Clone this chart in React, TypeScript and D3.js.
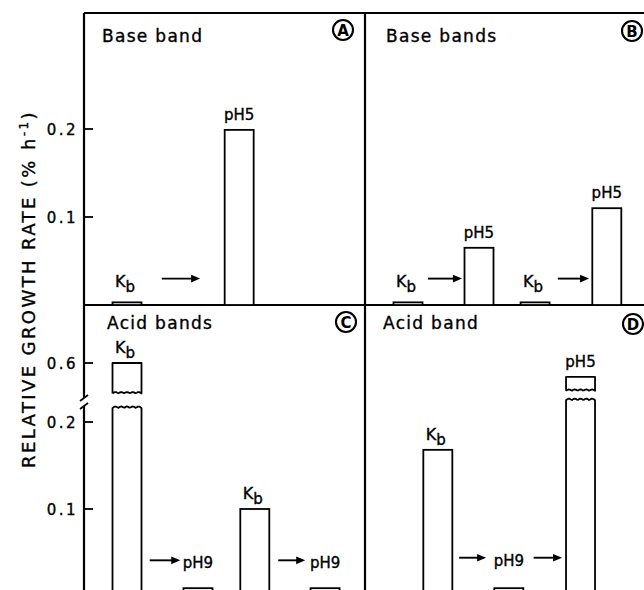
import React from "react";
import * as d3 from "d3";

// Panels: letter, heading
const panelIds = ["A", "B", "C", "D"];
const panelTitles = ["Base band", "Base bands", "Acid bands", "Acid band"];

// Bars: panel, label, slot (order along the panel), growth rate (% h-1)
const barPanels = ["A", "A", "B", "B", "B", "B", "C", "C", "C", "C", "D", "D", "D"];
const barLabels = ["Kb", "pH5", "Kb", "pH5", "Kb", "pH5", "Kb", "pH9", "Kb", "pH9", "Kb", "pH9", "pH5"];
const barSlots = [0, 1.58, 0, 1, 1.79, 2.8, 0, 1, 1.8, 2.79, 0.42, 1.42, 2.43];
const barValues = [0.003, 0.199, 0.003, 0.065, 0.003, 0.11, 0.6, 0.009, 0.1, 0.009, 0.168, 0.009, 0.584];

// Axis ticks
const topTicks = [0.1, 0.2];
const bottomTicks = [0.1, 0.2];
const bottomUpperTicks = [0.6];

// Where broken bars are cut (upper segment value, lower segment value)
const breakPanels = ["C", "D"];
const breakUpper = [0.565, 0.568];
const breakLower = [0.216, 0.225];

// Transition arrows: panel, start slot, end slot, height (value units)
const arrowPanels = ["A", "B", "B", "C", "C", "D", "D"];
const arrowFrom = [0.49, 0.28, 2.11, 0.32, 2.13, 0.72, 1.77];
const arrowTo = [1.03, 0.76, 2.55, 0.75, 2.51, 1.1, 2.17];
const arrowLevel = [0.03, 0.03, 0.03, 0.041, 0.041, 0.044, 0.044];

const FONT = "'DejaVu Sans', Arial, sans-serif";
const W = 644;
const H = 590;
const INK = { fill: "#000", stroke: "#000", strokeWidth: 0.35 };

const frame = { left: 84, mid: 365, right: 652, top: 13, midY: 305, bottom: 596 };
const BAR_W = 29;
const SLOT_W = 71;
const SLOT_OFFSET = 43;

const yTop = d3.scaleLinear().domain([0, 0.2]).range([frame.midY, 129]);
const yBot = d3.scaleLinear().domain([0, 0.2]).range([frame.bottom, 422]);
const yBotUpper = d3.scaleLinear().domain([0.5, 0.6]).range([450, 363]);

const isTop = (p: string) => p === "A" || p === "B";
const panelLeft = (p: string) => (p === "A" || p === "C" ? frame.left : frame.mid);

function xScale(p: string) {
  const l = panelLeft(p) + SLOT_OFFSET;
  return d3.scaleLinear().domain([0, 1]).range([l, l + SLOT_W]);
}

function yFor(p: string, v: number) {
  if (isTop(p)) return yTop(v);
  return v > 0.3 ? yBotUpper(v) : yBot(v);
}

// Small wavy edge used where a bar is cut
function wavyPoints(x0: number, x1: number, y: number, amp: number) {
  const n = 24;
  const cycles = 5;
  const pts: [number, number][] = [];
  for (let i = 0; i <= n; i++) {
    const t = i / n;
    const s = Math.abs(Math.sin(t * cycles * Math.PI));
    pts.push([x0 + (x1 - x0) * t, y - amp * s]);
  }
  return pts;
}

function BrokenBar({ x, top, bottom, cutTop, cutBottom }: { x: number; top: number; bottom: number; cutTop: number; cutBottom: number }) {
  const l = x - BAR_W / 2;
  const r = x + BAR_W / 2;
  const line = d3.line().curve(d3.curveLinear);
  const upperWave = wavyPoints(r, l, cutTop, 1.4);
  const lowerWave = wavyPoints(l, r, cutBottom, 1.6);
  const upperPath = `M${l},${cutTop}L${l},${top}L${r},${top}L${r},${cutTop}` + (line(upperWave) || "").replace(/^M/, "L");
  const lowerPath = `M${l},${bottom}L${l},${cutBottom}` + (line(lowerWave) || "").replace(/^M/, "L") + `L${r},${bottom}`;
  return (
    <g fill="#fff" stroke="#000" strokeWidth={1.8} strokeLinejoin="round">
      <path d={upperPath} />
      <path d={lowerPath} />
    </g>
  );
}

function Arrow({ x0, x1, y }: { x0: number; x1: number; y: number }) {
  return (
    <g>
      <line x1={x0} x2={x1 - 6} y1={y} y2={y} stroke="#000" strokeWidth={1.9} />
      <path d={`M${x1},${y}L${x1 - 9},${y - 3.8}L${x1 - 9},${y + 3.8}Z`} fill="#000" />
    </g>
  );
}

function BarLabel({ x, y, label }: { x: number; y: number; label: string }) {
  if (label === "Kb") {
    return (
      <text x={x} y={y} textAnchor="middle" fontFamily={FONT} fontSize={16} {...INK}>
        K<tspan dy={5} fontSize={15}>b</tspan>
      </text>
    );
  }
  return (
    <text x={x} y={y} textAnchor="middle" fontFamily={FONT} fontSize={15} {...INK}>
      {label}
    </text>
  );
}

function CircledLetter({ x, y, letter }: { x: number; y: number; letter: string }) {
  return (
    <g>
      <circle cx={x} cy={y} r={10} fill="none" stroke="#000" strokeWidth={2.1} />
      <text x={x} y={y + 5.5} textAnchor="middle" fontFamily={FONT} fontWeight="bold" fontSize={15} fill="#000">
        {letter}
      </text>
    </g>
  );
}

export default function App() {
  const titlePos: Record<string, [number, number]> = {
    A: [102, 42],
    B: [386, 42],
    C: [107, 329],
    D: [383, 329],
  };
  const letterPos: Record<string, [number, number]> = {
    A: [343, 30],
    B: [632, 31],
    C: [346, 322],
    D: [633, 324],
  };

  const bars = barValues.map((v, i) => {
    const p = barPanels[i];
    return { p, v, label: barLabels[i], x: xScale(p)(barSlots[i]) };
  });

  const arrows = arrowPanels.map((p, i) => {
    const xs = xScale(p);
    return { p, x0: xs(arrowFrom[i]), x1: xs(arrowTo[i]), y: yFor(p, arrowLevel[i]) };
  });

  const arrowRowY = (p: string) => {
    const a = arrows.find((d) => d.p === p);
    return a ? a.y : 0;
  };

  const tickLen = 9;

  return (
    <svg width={W} height={H} style={{ position: "absolute", left: 0, top: 0, background: "#fff" }}>
      <rect x={0} y={0} width={W} height={H} fill="#fff" />

      {/* frame */}
      <g stroke="#000" strokeWidth={2.2} fill="none">
        <line x1={frame.left} x2={frame.right} y1={frame.top} y2={frame.top} />
        <line x1={frame.left} x2={frame.right} y1={frame.midY} y2={frame.midY} />
        <line x1={frame.left} x2={frame.right} y1={frame.bottom} y2={frame.bottom} />
        <line x1={frame.mid} x2={frame.mid} y1={frame.top} y2={frame.bottom} />
        <line x1={frame.right} x2={frame.right} y1={frame.top} y2={frame.bottom} />
        {/* left axis, broken in the lower half */}
        <line x1={frame.left} x2={frame.left} y1={frame.top} y2={398} />
        <line x1={frame.left} x2={frame.left} y1={406} y2={frame.bottom} />
      </g>
      <g stroke="#000" strokeWidth={1.6}>
        <line x1={frame.left - 4} x2={frame.left + 4} y1={401} y2={395} />
        <line x1={frame.left - 4} x2={frame.left + 4} y1={409} y2={403} />
      </g>

      {/* ticks */}
      {[
        ...topTicks.map((t) => ({ t, y: yTop(t) })),
        ...bottomTicks.map((t) => ({ t, y: yBot(t) })),
        ...bottomUpperTicks.map((t) => ({ t, y: yBotUpper(t) })),
      ].map((d, i) => (
        <g key={`tk${i}`}>
          <line x1={frame.left} x2={frame.left + tickLen} y1={d.y} y2={d.y} stroke="#000" strokeWidth={1.8} />
          <text
            x={frame.left - 6}
            y={d.y + 5.5}
            textAnchor="end"
            fontFamily={FONT}
            fontSize={15}
            letterSpacing={2.5}
            {...INK}
          >
            {d3.format(".1f")(d.t)}
          </text>
        </g>
      ))}

      {/* y axis title */}
      <text
        transform="translate(35,289) rotate(-90)"
        textAnchor="middle"
        fontFamily={FONT}
        fontSize={18}
        letterSpacing={2.4}
        {...INK}
      >
        RELATIVE GROWTH RATE (% h<tspan dy={-7} fontSize={12}>-1</tspan>
        <tspan dy={7}>)</tspan>
      </text>

      {/* panel titles and letters */}
      {panelIds.map((p, i) => (
        <g key={`pt${p}`}>
          <text x={titlePos[p][0]} y={titlePos[p][1]} fontFamily={FONT} fontSize={17} letterSpacing={1.3} {...INK}>
            {panelTitles[i]}
          </text>
          <CircledLetter x={letterPos[p][0]} y={letterPos[p][1]} letter={p} />
        </g>
      ))}

      {/* bars */}
      {bars.map((b, i) => {
        const base = isTop(b.p) ? frame.midY : frame.bottom;
        const yv = yFor(b.p, b.v);
        const bi = breakPanels.indexOf(b.p);
        const broken = !isTop(b.p) && b.v > 0.3 && bi >= 0;
        return (
          <g key={`b${i}`}>
            {broken ? (
              <BrokenBar
                x={b.x}
                top={yv}
                bottom={base}
                cutTop={yBotUpper(breakUpper[bi])}
                cutBottom={yBot(breakLower[bi])}
              />
            ) : (
              <rect
                x={b.x - BAR_W / 2}
                y={yv}
                width={BAR_W}
                height={base - yv}
                fill="#fff"
                stroke="#000"
                strokeWidth={1.8}
              />
            )}
            <BarLabel
              x={b.label === "Kb" ? b.x - 2 : b.x}
              y={Math.min(yv - 10, arrowRowY(b.p) + 8)}
              label={b.label}
            />
          </g>
        );
      })}

      {/* arrows */}
      {arrows.map((a, i) => (
        <Arrow key={`a${i}`} x0={a.x0} x1={a.x1} y={a.y} />
      ))}
    </svg>
  );
}
